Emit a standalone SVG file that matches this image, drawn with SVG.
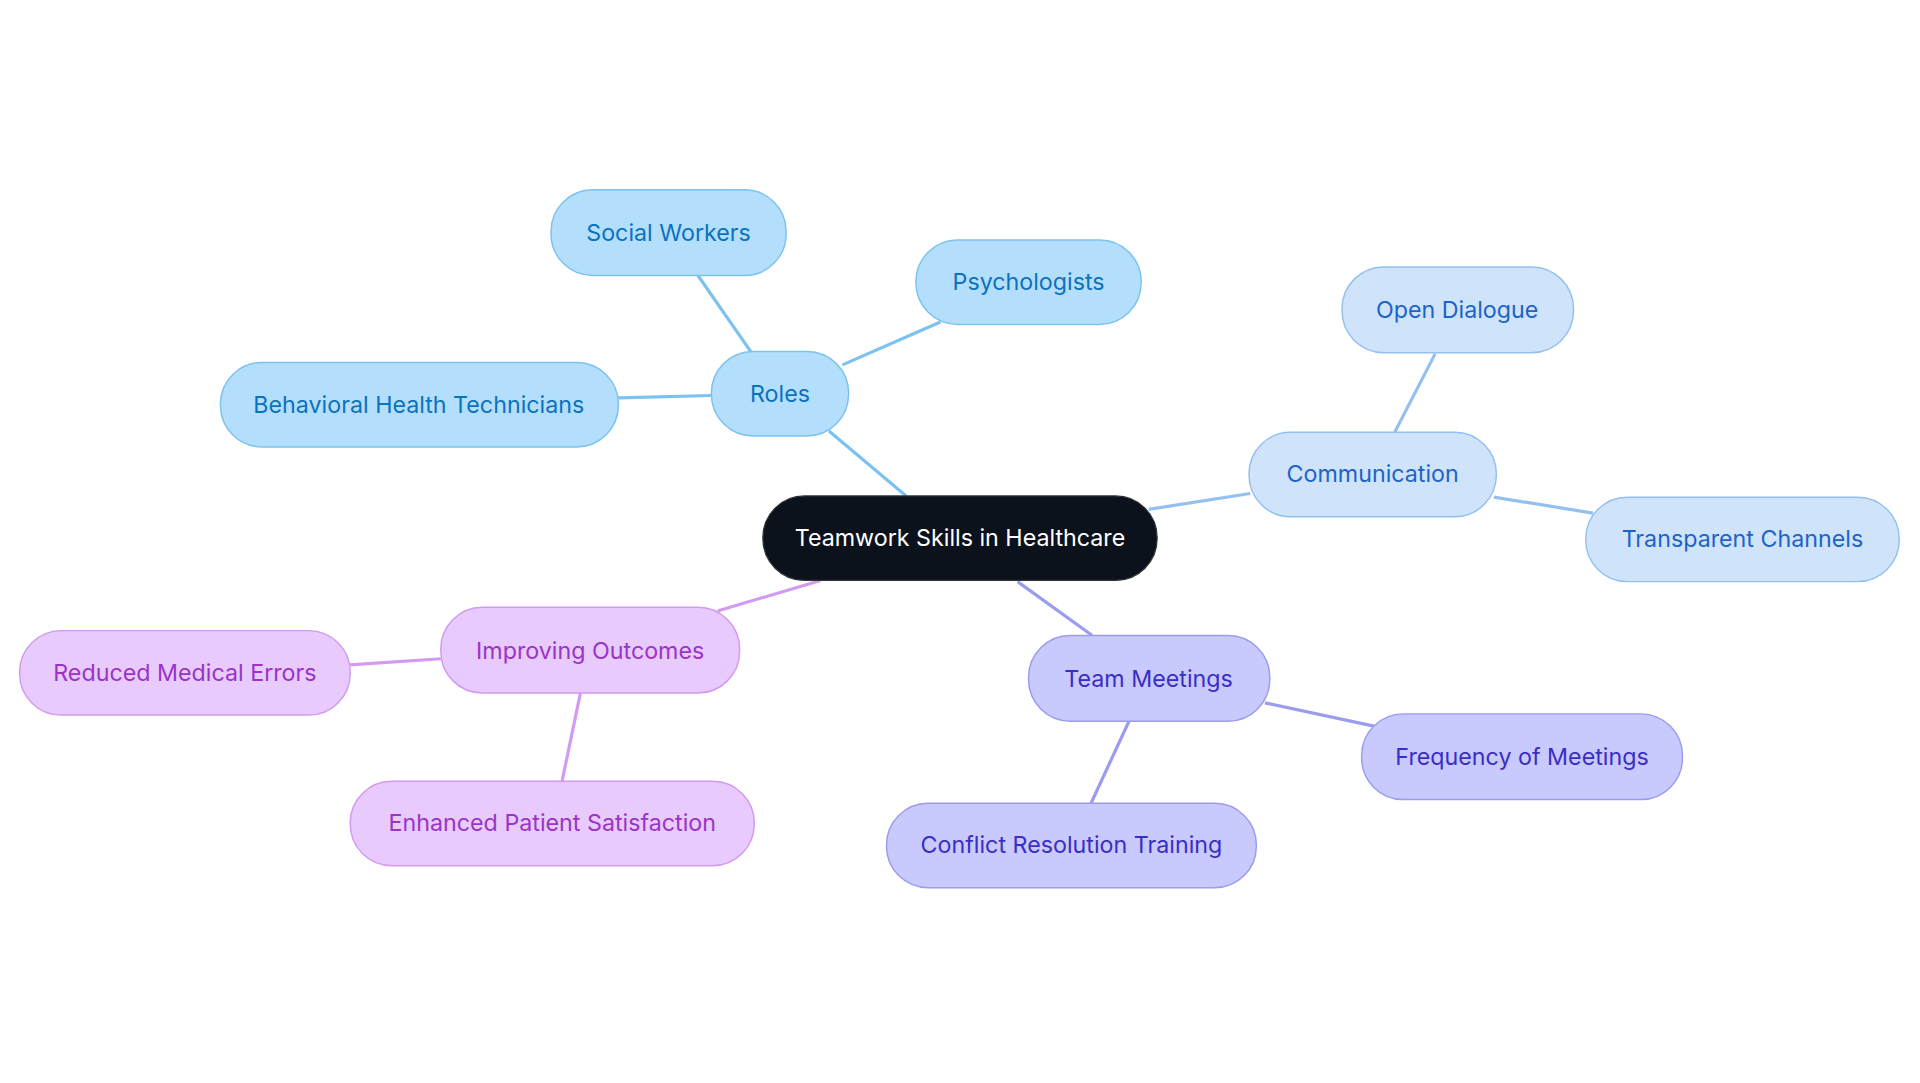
<svg xmlns="http://www.w3.org/2000/svg" width="1920" height="1083" viewBox="0 0 1920 1083">
<style>
text{font-family:Inter,"Noto Sans",sans-serif;font-size:19px;text-anchor:middle;dominant-baseline:central}
.r rect{fill:#b4dffc;stroke:#7cc2f0;stroke-width:1.2}.r text{fill:#0b72c0}
.c rect{fill:#cfe3fa;stroke:#94c0f0;stroke-width:1.2}.c text{fill:#1d63c9}
.t rect{fill:#c8c9fc;stroke:#9a9cf0;stroke-width:1.2}.t text{fill:#3a2ec4}
.i rect{fill:#e8cafc;stroke:#d29af2;stroke-width:1.2}.i text{fill:#9a34c9}
.e{stroke-width:2.6;fill:none}
</style>
<rect width="1920" height="1083" fill="#fff"/>
<g transform="scale(1.2245)">
<g id="connectors">
<path class="e" stroke="#7cc2f0" d="M740,405L677,352M613,287L570,225M688,298L768,263M581,323L505,325"/>
<path class="e" stroke="#94c0f0" d="M938,416L1021,403M1139,353L1172,289M1220,406L1301,419"/>
<path class="e" stroke="#9a9cf0" d="M831,475L892,519M1033,574L1122,593M922,589L891,656"/>
<path class="e" stroke="#d29af2" d="M670,474L586,499M360,538L286,543M474,566L459,638"/>
</g>
<g id="center"><rect x="623" y="405" width="322" height="69" rx="34" fill="#0c121c" stroke="#333" stroke-width="1"/><text x="784" y="439" fill="#fff">Teamwork Skills in Healthcare</text></g>
<g id="roles" class="r"><rect x="581" y="287" width="112" height="69" rx="34"/><text x="637" y="321">Roles</text></g>
<g id="social" class="r"><rect x="450" y="155" width="192" height="70" rx="34"/><text x="546" y="190">Social Workers</text></g>
<g id="psych" class="r"><rect x="748" y="196" width="184" height="69" rx="34"/><text x="840" y="230">Psychologists</text></g>
<g id="bht" class="r"><rect x="180" y="296" width="325" height="69" rx="34"/><text x="342" y="330">Behavioral Health Technicians</text></g>
<g id="comm" class="c"><rect x="1020" y="353" width="202" height="69" rx="34"/><text x="1121" y="387">Communication</text></g>
<g id="open" class="c"><rect x="1096" y="218" width="189" height="70" rx="34"/><text x="1190" y="253">Open Dialogue</text></g>
<g id="trans" class="c"><rect x="1295" y="406" width="256" height="69" rx="34"/><text x="1423" y="440">Transparent Channels</text></g>
<g id="team" class="t"><rect x="840" y="519" width="197" height="70" rx="34"/><text x="938" y="554">Team Meetings</text></g>
<g id="freq" class="t"><rect x="1112" y="583" width="262" height="70" rx="34"/><text x="1243" y="618">Frequency of Meetings</text></g>
<g id="conflict" class="t"><rect x="724" y="656" width="302" height="69" rx="34"/><text x="875" y="690">Conflict Resolution Training</text></g>
<g id="improv" class="i"><rect x="360" y="496" width="244" height="70" rx="34"/><text x="482" y="531">Improving Outcomes</text></g>
<g id="reduced" class="i"><rect x="16" y="515" width="270" height="69" rx="34"/><text x="151" y="549">Reduced Medical Errors</text></g>
<g id="enhanced" class="i"><rect x="286" y="638" width="330" height="69" rx="34"/><text x="451" y="672">Enhanced Patient Satisfaction</text></g>
</g>
</svg>
